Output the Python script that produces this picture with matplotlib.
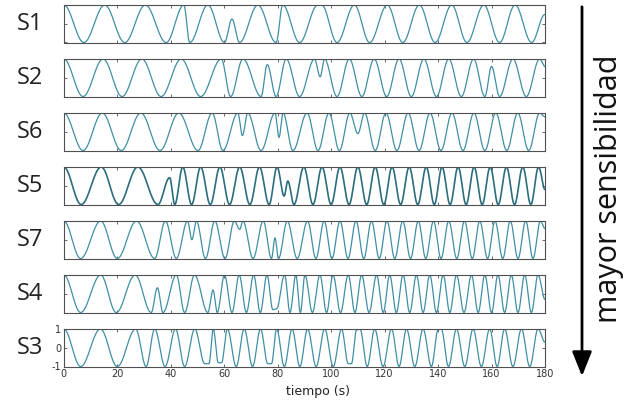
import numpy as np
import matplotlib
matplotlib.use('Agg')
import matplotlib.pyplot as plt
from matplotlib.patches import FancyArrowPatch

plt.rcParams['axes.unicode_minus'] = False

# sensor rows, top to bottom
names = ['S1', 'S2', 'S6', 'S5', 'S7', 'S4', 'S3']

# extrema of each trace (time in s, normalised value)
s1_t = [0, 7.5, 15.3, 22.8, 30.5, 38.3, 44.9, 47.1, 53.9, 60.1, 62.9, 65.7, 72.6, 79.4, 81.9, 88.2,
        95.0, 96.5, 102.2, 108.7, 114.4, 121.0, 126.8, 133.0, 138.9, 145.1, 150.8, 157.1, 163.0,
        168.8, 175.0, 180]
s1_v = [1, -1, 1, -1, 1, -1, 1, -1, 1, -1, 0.25, -1, 1, -1, 1, -1,
        1, 1, -1, 1, -1, 1, -1, 1, -1, 1, -1, 1, -1,
        1, -1, 0.5]

s2_t = [0, 7.2, 14.7, 21.8, 29.2, 36.4, 43.9, 51.2, 58.9, 62.4, 67.0, 73.8, 76.1, 79.4, 83.2, 88.2,
        93.8, 95.9, 97.5, 102.2, 106.8, 111.5, 116.1, 120.8, 125.4, 130.0, 134.7, 139.4, 144.0,
        148.7, 153.3, 157.5, 160.0, 163.0, 168.0, 173.0, 178.0, 180]
s2_v = [1, -1, 1, -1, 1, -1, 1, -1, 1, -1, 1, -1, 0.7, -1, 1, -1,
        1, 0.05, 1, -1, 1, -1, 1, -1, 1, -1, 1, -1, 1,
        -1, 1, -1, 0.6, -1, 1, -1, 1, 0.6]

s6_t = [0, 7.2, 14.4, 21.5, 28.8, 36.0, 43.0, 50.2, 55.5, 59.5, 65.1, 66.8, 68.8, 73.8, 79.0, 80.5,
        82.0, 85.7, 91.0, 95.1, 99.2, 103.1, 107.0, 110.0, 112.5, 116.5, 120.5, 124.6, 128.8, 132.9,
        137.0, 141.1, 145.2, 149.3, 153.4, 157.5, 161.6, 165.7, 169.8, 173.9, 178.0, 180]
s6_v = [1, -1, 1, -1, 1, -1, 1, -1, 1, -1, 1, -0.2, 1, -1, 1, -0.3,
        1, -1, 1, -1, 1, -1, 1, -0.1, 1, -1, 1, -1, 1, -1,
        1, -1, 1, -1, 1, -1, 1, -1, 1, -1, 1, 0.8]

s5_t = [0, 6.5, 14.0, 20.5, 27.7, 35.2, 39.6, 41.5, 44.5, 47.8, 51.2, 54.8, 58.4, 62.0, 65.8, 69.6,
        73.2, 76.8, 79.8, 82.4, 83.8, 86.1, 89.8, 93.2, 96.6, 100.0, 103.3, 106.7, 110.0, 113.3,
        116.5, 119.7, 122.8, 126.0, 129.2, 132.4, 135.6, 138.6, 141.5, 144.5, 147.5, 150.5, 153.5,
        156.5, 159.5, 162.5, 165.6, 168.6, 171.7, 174.7, 177.6, 180]
s5_v = [1, -1, 1, -1, 1, -1, 0.43, -1, 1, -1, 1, -1, 1, -1, 1, -1,
        1, -1, 1, -0.55, 0.25, -1, 1, -1, 1, -1, 1, -1, 1, -1,
        1, -1, 1, -1, 1, -1, 1, -1, 1, -1, 1, -1, 1,
        -1, 1, -1, 1, -1, 1, -1, 1, -0.2]

s7_t = [0, 6.3, 13.8, 20.0, 27.2, 34.0, 38.0, 42.1, 46.3, 47.9, 49.6, 53.0, 56.5, 60.3, 63.8, 65.8,
        67.0, 70.8, 74.6, 77.7, 79.0, 80.3, 83.6, 87.3, 91.2, 94.3, 97.4, 100.3, 103.3, 106.3,
        109.3, 112.2, 115.1, 118.0, 120.9, 123.8, 126.8, 129.7, 132.6, 135.4, 138.3, 141.1, 144.0,
        147.0, 149.9, 152.8, 155.6, 158.5, 161.3, 164.2, 167.0, 169.9, 172.8, 175.5, 178.3, 180]
s7_v = [1, -1, 1, -1, 1, -1, 1, -1, 1, 0.0, 1, -1, 1, -1, 1, 0.55,
        1, -1, 1, -1, 0.1, -1, 1, -1, 1, -1, 1, -1, 1, -1,
        1, -1, 1, -1, 1, -1, 1, -1, 1, -1, 1, -1, 1,
        -1, 1, -1, 1, -1, 1, -1, 1, -1, 1, -1, 1, 0.6]

s4_t = [0, 6.3, 13.8, 19.6, 26.7, 32.7, 35.0, 37.1, 42.1, 45.2, 48.9, 53.9, 55.8, 57.4, 60.1, 62.9,
        65.6, 68.3, 71.0, 73.5, 76.0, 78.2, 79.6, 82.6, 84.6, 86.8, 88.5, 90.2, 93.0, 95.8, 98.3,
        100.7, 103.5, 106.4, 108.9, 111.4, 114.2, 117.0, 119.5, 121.9, 124.4, 126.9, 129.4, 131.9,
        134.4, 136.9, 139.4, 141.9, 144.4, 146.9, 149.7, 152.5, 155.0, 157.5, 160.0, 162.4, 164.9,
        167.4, 169.9, 172.4, 174.9, 177.4, 180]
s4_v = [1, -1, 1, -1, 1, -1, 0.32, -1, 1, -1, 1, -1, 0.2, -1, 1, -1,
        1, -1, 1, -1, 1, -0.85, -0.8, 1, -1, 1, -1, 1, -1, 1, -1,
        1, -1, 1, -1, 1, -1, 1, -1, 1, -1, 1, -1, 1,
        -1, 1, -1, 1, -1, 1, -1, 1, -1, 1, -1, 1, -1,
        1, -1, 1, -1, 1, -0.3]

s3_t = [0, 6.3, 13.7, 20.0, 26.9, 30.8, 34.0, 37.9, 41.8, 45.2, 49.0, 52.7, 54.3, 55.9, 57.8, 59.0,
        61.2, 64.5, 67.5, 70.6, 73.6, 76.3, 77.7, 79.6, 82.5, 85.4, 88.3, 91.2, 94.4, 97.6, 100.8,
        103.9, 106.4, 107.6, 109.5, 110.8, 113.5, 116.3, 119.4, 122.6, 125.4, 128.2, 131.3, 134.4,
        137.5, 140.0, 141.2, 143.9, 146.9, 150.0, 153.1, 156.2, 159.3, 162.1, 164.9, 168.0, 171.2,
        174.3, 177.4, 180]
s3_v = [1, -1, 1, -1, 1, -1, 1, -1, 1, -1, 1, -0.85, -0.85, 1, -0.8, -0.8,
        1, -1, 1, -1, 1, -0.85, -0.85, 1, -1, 1, -1, 1, -1, 1, -1,
        1, -0.85, -0.85, 0.95, 1, -1, 1, -1, 1, -1, 1, -1, 1,
        -1, 0.95, 1, -1, 1, -1, 1, -1, 1, -1, 1, -1, 1,
        -1, 1, 0.3]

series = [(s1_t, s1_v), (s2_t, s2_v), (s6_t, s6_v), (s5_t, s5_v),
          (s7_t, s7_v), (s4_t, s4_v), (s3_t, s3_v)]

xticks = [0, 20, 40, 60, 80, 100, 120, 140, 160, 180]
yticks = [-1, 0, 1]


def wave(tk, vk, n=24):
    # half-cosine easing between consecutive extrema
    tk = np.asarray(tk, float)
    vk = np.asarray(vk, float)
    u = np.linspace(0, 1, n, endpoint=False)
    tt, yy = [], []
    for i in range(len(tk) - 1):
        tt.append(tk[i] + (tk[i + 1] - tk[i]) * u)
        yy.append(vk[i] + (vk[i + 1] - vk[i]) * (1 - np.cos(np.pi * u)) / 2)
    tt.append([tk[-1]])
    yy.append([vk[-1]])
    return np.concatenate(tt), np.concatenate(yy)


W, H = 631, 409
fig = plt.figure(figsize=(W / 100., H / 100.), dpi=100)
fig.patch.set_facecolor('white')

left_px, right_px = 63.8, 545.0
row_h = 37.5
for i, (name, (tk, vk)) in enumerate(zip(names, series)):
    top_px = 5 + 54.0 * i
    ax = fig.add_axes([left_px / W, 1 - (top_px + row_h) / H, (right_px - left_px) / W, row_h / H])
    x, y = wave(tk, vk)
    if name == 'S5':
        ax.plot(x, y, color='#2c6d7e', lw=1.2)
    else:
        ax.plot(x, y, color='#3f8fa5', lw=0.9)
    ax.set_xlim(0, 180)
    ax.set_ylim(-1, 1)
    ax.set_xticks(xticks)
    ax.set_yticks(yticks)
    for sp in ax.spines.values():
        sp.set_color('#505050')
        sp.set_linewidth(0.8)
    ax.tick_params(direction='in', length=2.5, width=0.6, color='#505050', top=True, right=True,
                   labelsize=7, labelcolor='#333333', pad=2)
    if i < len(names) - 1:
        ax.tick_params(labelbottom=False, labelleft=False)
    fig.text(30 / W, 1 - (top_px + row_h / 2) / H, name, ha='center', va='center',
             fontsize=17, family='Open Sans', color='#222222')

fig.text(318 / W, 1 - 391 / H, 'tiempo (s)', ha='center', va='center', fontsize=9, color='#222222')

arrow = FancyArrowPatch((582 / W, 1 - 4 / H), (582 / W, 1 - 379 / H), transform=fig.transFigure,
                        arrowstyle='-|>,head_length=15,head_width=6', mutation_scale=1,
                        lw=2, color='black')
fig.add_artist(arrow)
fig.text(609 / W, 1 - 189 / H, 'mayor sensibilidad', rotation=90, ha='center', va='center',
         fontsize=22, family='Open Sans', color='#111111')

fig.savefig('out.png', dpi=100)
